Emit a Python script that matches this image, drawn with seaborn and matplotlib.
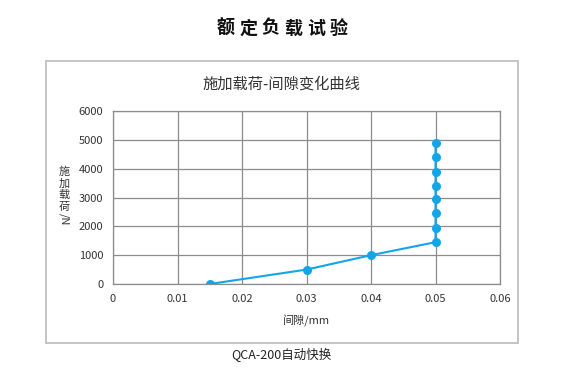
import matplotlib
matplotlib.use("Agg")
import matplotlib.pyplot as plt
import seaborn as sns
import pandas as pd
from matplotlib.patches import Rectangle

gap_mm = [0.015, 0.03, 0.04, 0.05, 0.05, 0.05, 0.05, 0.05, 0.05, 0.05, 0.05]
load_n = [0, 500, 1000, 1450, 1950, 2450, 2950, 3400, 3900, 4400, 4900]
x_ticks = [0, 0.01, 0.02, 0.03, 0.04, 0.05, 0.06]
x_ticklabels = ["0", "0.01", "0.02", "0.03", "0.04", "0.05", "0.06"]
y_ticks = [0, 1000, 2000, 3000, 4000, 5000, 6000]

sns.set_theme(style="white")
plt.rcParams['font.family'] = ['Noto Sans CJK SC', 'DejaVu Sans']

W, H = 563, 370
fig = plt.figure(figsize=(W / 100, H / 100), dpi=100)
fig.patch.set_facecolor("white")

def fx(px):
    return px / W

def fy(py):
    return 1 - py / H

# outer panel
fig.patches.append(Rectangle((fx(46), fy(343)), fx(518) - fx(46), fy(61) - fy(343),
                             transform=fig.transFigure, fill=False,
                             edgecolor="#c4c4c4", linewidth=1.4))

ax = fig.add_axes([fx(113), fy(284), fx(500) - fx(113), fy(111) - fy(284)])
df = pd.DataFrame({"gap": gap_mm, "load": load_n})
color = "#12A5E8"
sns.lineplot(data=df, x="gap", y="load", ax=ax, sort=False, estimator=None,
             color=color, linewidth=1.5, marker="o", markersize=6.5,
             markeredgewidth=0, markerfacecolor=color)

ax.set_xlim(0, 0.06)
ax.set_ylim(0, 6000)
ax.set_xticks(x_ticks)
ax.set_xticklabels(x_ticklabels)
ax.set_yticks(y_ticks)
ax.grid(True, color="#8c8c8c", linewidth=0.9)
ax.set_axisbelow(True)
for s in ax.spines.values():
    s.set_color("#8c8c8c")
    s.set_linewidth(0.9)
ax.tick_params(axis="both", labelsize=8, colors="#333333", length=0, pad=7)
ax.set_xlabel("")
ax.set_ylabel("")

# main title with letter spacing
for i, ch in enumerate("额定负载试验"):
    fig.text(fx(282 + (i - 2.5) * 22.5), fy(28), ch, ha="center", va="center",
             fontsize=13, fontweight="bold", color="#111111")
fig.text(fx(281), fy(84), "施加载荷-间隙变化曲线", ha="center", va="center",
         fontsize=11, color="#333333")
fig.text(fx(307), fy(320), "间隙/mm", ha="center", va="center",
         fontsize=8, color="#333333")
fig.text(0.5, fy(355), "QCA-200自动快换", ha="center", va="center",
         fontsize=9, color="#222222")

# stacked vertical y label
for i, ch in enumerate("施加载荷"):
    fig.text(fx(64), fy(172 + i * 11.5), ch, ha="center", va="center",
             fontsize=8, color="#333333")
fig.text(fx(64), fy(219), "/N", ha="center", va="center", rotation=-90,
         fontsize=8, color="#333333")

fig.savefig("out.png", dpi=100, facecolor="white")
